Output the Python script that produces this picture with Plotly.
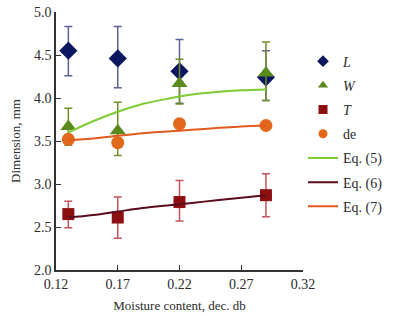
import plotly.graph_objects as go

# Data
moisture = [0.13, 0.17, 0.22, 0.29]

L_vals = [4.55, 4.46, 4.31, 4.24]
L_up = [0.28, 0.37, 0.37, 0.31]
L_dn = [0.29, 0.34, 0.37, 0.27]

W_vals = [3.67, 3.62, 4.17, 4.29]
W_up = [0.21, 0.33, 0.28, 0.36]
W_dn = [0.22, 0.29, 0.24, 0.32]

T_vals = [2.65, 2.61, 2.79, 2.87]
T_up = [0.15, 0.24, 0.25, 0.25]
T_dn = [0.16, 0.24, 0.22, 0.25]

de_vals = [3.52, 3.48, 3.70, 3.68]

fit_x = [0.13, 0.15, 0.17, 0.19, 0.21, 0.23, 0.25, 0.27, 0.29]
eq5 = [3.60, 3.73, 3.84, 3.93, 3.99, 4.04, 4.07, 4.09, 4.10]
eq6 = [2.61, 2.64, 2.68, 2.72, 2.75, 2.78, 2.81, 2.84, 2.87]
eq7 = [3.51, 3.53, 3.56, 3.59, 3.61, 3.63, 3.65, 3.67, 3.68]

x_ticks = [0.12, 0.17, 0.22, 0.27, 0.32]
y_ticks = [2.0, 2.5, 3.0, 3.5, 4.0, 4.5, 5.0]

C_L, C_W, C_T, C_de = "#0b1660", "#5b8a1c", "#8c0f12", "#e2691c"

fig = go.Figure()

fig.add_trace(go.Scatter(
    x=moisture, y=L_vals, mode="markers", name="<i>L</i>", showlegend=False,
    marker=dict(symbol="diamond", size=14, color=C_L),
    error_y=dict(type="data", symmetric=False, array=L_up, arrayminus=L_dn,
                 color="#5a6496", thickness=1.5, width=4)))
fig.add_trace(go.Scatter(
    x=moisture, y=W_vals, mode="markers", name="<i>W</i>", showlegend=False,
    marker=dict(symbol="triangle-up", size=14, color=C_W),
    error_y=dict(type="data", symmetric=False, array=W_up, arrayminus=W_dn,
                 color="#6f8f2a", thickness=1.5, width=4)))
fig.add_trace(go.Scatter(
    x=moisture, y=T_vals, mode="markers", name="<i>T</i>", showlegend=False,
    marker=dict(symbol="square", size=12, color=C_T),
    error_y=dict(type="data", symmetric=False, array=T_up, arrayminus=T_dn,
                 color="#c0545a", thickness=1.5, width=4)))
fig.add_trace(go.Scatter(
    x=moisture, y=de_vals, mode="markers", name="de", showlegend=False,
    marker=dict(symbol="circle", size=13, color=C_de)))

# legend entries with smaller markers (as in the reference)
for nm, sym, col, grp in [("<i>L</i>", "diamond", C_L, "a"),
                          ("<i>W</i>", "triangle-up", C_W, "b"),
                          ("<i>T</i>", "square", C_T, "c"),
                          ("de", "circle", C_de, "d")]:
    fig.add_trace(go.Scatter(
        x=[None], y=[None], mode="markers", name=nm, legendgroup=grp,
        marker=dict(symbol=sym, size=9, color=col)))

fig.add_trace(go.Scatter(
    x=fit_x, y=eq5, mode="lines", name="Eq. (5)", legendgroup="e",
    line=dict(color="#7dcc32", width=2, shape="spline")))
fig.add_trace(go.Scatter(
    x=fit_x, y=eq6, mode="lines", name="Eq. (6)", legendgroup="f",
    line=dict(color="#5a0c1c", width=2, shape="spline")))
fig.add_trace(go.Scatter(
    x=fit_x, y=eq7, mode="lines", name="Eq. (7)", legendgroup="g",
    line=dict(color="#e05a1c", width=2, shape="spline")))

font_family = "Liberation Serif"

fig.update_layout(
    width=393, height=316,
    margin=dict(l=56, r=85, t=5, b=46),
    paper_bgcolor="white", plot_bgcolor="white",
    font=dict(family=font_family, size=14, color="#2a2a2a"),
    showlegend=True,
    legend=dict(x=1.0, xanchor="left", y=0.87, yanchor="top",
                font=dict(family=font_family, size=14, color="#2a2a2a"),
                tracegroupgap=3, itemwidth=30, bgcolor="rgba(0,0,0,0)"),
    xaxis=dict(range=[0.12, 0.32], tickvals=x_ticks, tickformat=".2f",
               showgrid=False, zeroline=False, showline=True,
               linecolor="#333333", linewidth=1.5, ticks="inside",
               ticklen=5, tickcolor="#333333", ticklabeloverflow="allow",
               title=dict(text="Moisture content, dec. db",
                          font=dict(size=13), standoff=10)),
    yaxis=dict(range=[2.0, 5.0], tickvals=y_ticks, tickformat=".1f",
               showgrid=False, zeroline=False, showline=True,
               linecolor="#333333", linewidth=1.5, ticks="inside",
               ticklen=5, tickcolor="#333333", ticklabeloverflow="allow",
               title=dict(text="Dimension, mm", font=dict(size=13), standoff=10)),
)

fig.write_html("out.html")
